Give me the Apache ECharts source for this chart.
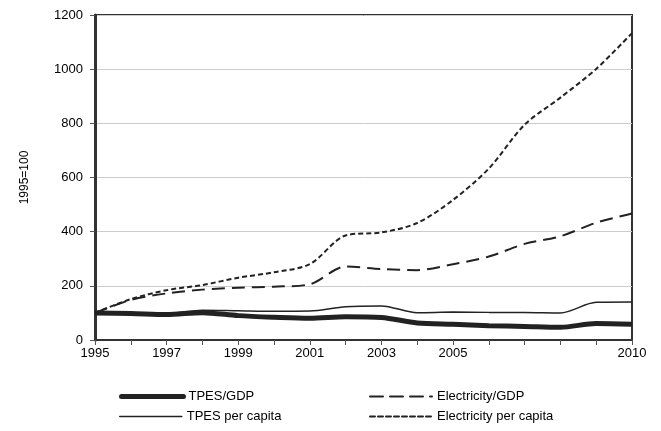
<!DOCTYPE html>
<html><head><meta charset="utf-8">
<script src="https://cdn.jsdelivr.net/npm/echarts@6/dist/echarts.min.js"></script>
<style>html,body{margin:0;padding:0;background:#fff}#c{width:661px;height:431px}</style>
</head><body><div id="c"></div>
<script>
const years = [1995,1996,1997,1998,1999,2000,2001,2002,2003,2004,2005,2006,2007,2008,2009,2010];
const shownYears = [1995,1997,1999,2001,2003,2005,2010];
const tpesGdp = [100,98,94,101,90,84,80,86,83,63,58,53,50,47,61,58];
const elecGdp = [100,148,172,186,193,197,206,271,262,258,280,308,355,383,433,467];
const tpesCap = [100,100,98,110,108,106,107,123,126,101,103,102,102,100,139,140];
const elecCap = [100,151,184,203,230,250,280,386,397,432,517,633,795,895,1001,1133];
const yTicks = {min:0,max:1200,interval:200};

const chart = echarts.init(document.getElementById('c'));
const font = 'Liberation Sans, Arial, sans-serif';
const styles = {
  'TPES/GDP':{width:5,type:'solid'},
  'Electricity/GDP':{width:2,type:[13,7]},
  'TPES per capita':{width:1.5,type:'solid'},
  'Electricity per capita':{width:2,type:[5,3]}
};
function mk(name, data) {
  return {name, type:'line', data: years.map((y,i)=>[y,data[i]]), symbol:'none', smooth:0.3,
    lineStyle:{color:'#222', width:styles[name].width, type:styles[name].type}, itemStyle:{color:'#222'}};
}
function lg(name, left, top) {
  return {data:[name],left,top,itemWidth:62,itemHeight:14,itemGap:0,
    itemStyle:{opacity:0},
    lineStyle:{color:'#222',width:styles[name].width,type:styles[name].type,cap:'round'},
    textStyle:{color:'#000',fontFamily:font,fontSize:13,padding:0}};
}
chart.setOption({
  animation:false,
  grid:{left:95,right:29,top:15,bottom:91,show:true,borderColor:'#333',borderWidth:2},
  xAxis:{type:'value',min:1995,max:2010,interval:1,
    axisLine:{lineStyle:{color:'#333',width:2}},
    axisTick:{show:true,length:5,lineStyle:{color:'#555'}},
    splitLine:{show:false},
    axisLabel:{color:'#000',fontFamily:font,fontSize:13,margin:7,
      formatter:v=>shownYears.includes(v)?String(v):''}},
  yAxis:{type:'value',min:yTicks.min,max:yTicks.max,interval:yTicks.interval,
    name:'1995=100',nameLocation:'middle',nameGap:64,nameRotate:90,
    nameTextStyle:{color:'#000',fontFamily:font,fontSize:12},
    axisLine:{show:true,lineStyle:{color:'#333',width:3}},
    axisTick:{show:true,length:5,lineStyle:{color:'#555'}},
    splitLine:{lineStyle:{color:'#ccc',width:1}},
    axisLabel:{color:'#000',fontFamily:font,fontSize:13,margin:12,formatter:v=>String(v)}},
  legend:[
    lg('TPES/GDP',114,385),
    lg('Electricity/GDP',364,385),
    lg('TPES per capita',114,405),
    lg('Electricity per capita',364,405)
  ],
  series:[
    mk('TPES/GDP',tpesGdp),
    mk('Electricity/GDP',elecGdp),
    mk('TPES per capita',tpesCap),
    mk('Electricity per capita',elecCap)
  ]
});
</script></body></html>
